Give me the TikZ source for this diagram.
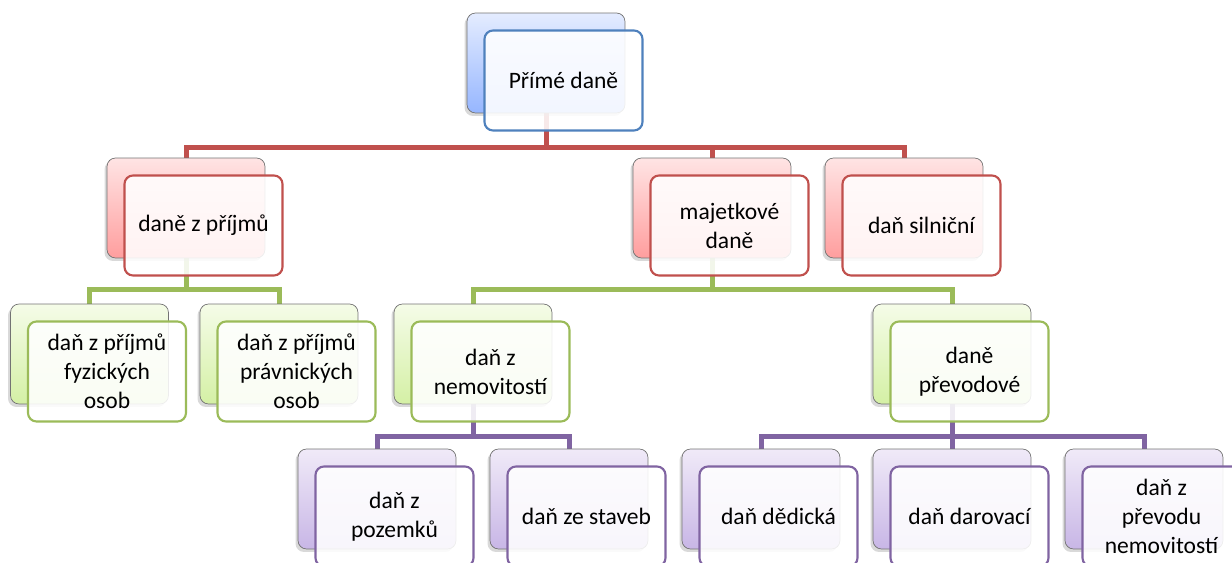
\documentclass[tikz,border=0pt]{standalone}
\usepackage{fontspec}
\setmainfont{Carlito}
\usetikzlibrary{backgrounds,shadows}

\definecolor{bluebd}{RGB}{79,129,189}
\definecolor{bluetop}{RGB}{228,236,255}
\definecolor{bluebot}{RGB}{150,182,255}
\definecolor{redbd}{RGB}{192,80,77}
\definecolor{redtop}{RGB}{255,228,228}
\definecolor{redbot}{RGB}{255,158,158}
\definecolor{greenbd}{RGB}{155,187,89}
\definecolor{greentop}{RGB}{245,252,232}
\definecolor{greenbot}{RGB}{212,240,165}
\definecolor{purplebd}{RGB}{128,100,162}
\definecolor{purpletop}{RGB}{240,234,248}
\definecolor{purplebot}{RGB}{200,182,230}

\begin{document}
\begin{tikzpicture}[x=0.02cm, y=-0.02cm,
    back/.style = {draw=gray!90!black, rounded corners=0.17cm, minimum width=3.16cm, minimum height=2cm,
      drop shadow={opacity=0.3, shadow xshift=-0.05cm, shadow yshift=-0.06cm}},
    front/.style = {draw, line width=1.2pt, fill=white, fill opacity=0.88, text opacity=1,
      rounded corners=0.17cm, minimum width=3.16cm, minimum height=2cm, align=center,
      font=\fontsize{13.4}{16.5}\selectfont, xshift=0.35cm, yshift=-0.35cm},
    blueback/.style = {back, top color=bluetop, bottom color=bluebot},
    redback/.style = {back, top color=redtop, bottom color=redbot},
    greenback/.style = {back, top color=greentop, bottom color=greenbot},
    purpleback/.style = {back, top color=purpletop, bottom color=purplebot},
    link/.style = {line width=0.1cm}]
  \useasboundingbox (0,0) rectangle (1232,563);

  % top
  \node[blueback] (b0) at (546,63) {};
  \node[front, draw=bluebd] (f0) at (b0) {Přímé daně};
  % second row
  \node[redback] (b1) at (186,208) {};
  \node[front, draw=redbd] (f1) at (b1) {daně z příjmů};
  \node[redback] (b2) at (712,208) {};
  \node[front, draw=redbd] (f2) at (b2) {majetkové\\daně};
  \node[redback] (b3) at (904,208) {};
  \node[front, draw=redbd] (f3) at (b3) {daň silniční};
  % third row
  \node[greenback] (b4) at (89.5,354) {};
  \node[front, draw=greenbd] (f4) at (b4) {daň z příjmů\\fyzických\\osob};
  \node[greenback] (b5) at (279,354) {};
  \node[front, draw=greenbd] (f5) at (b5) {daň z příjmů\\právnických\\osob};
  \node[greenback] (b6) at (473,354) {};
  \node[front, draw=greenbd] (f6) at (b6) {daň z\\nemovitostí};
  \node[greenback] (b7) at (952,354) {};
  \node[front, draw=greenbd] (f7) at (b7) {daně\\převodové};
  % fourth row
  \node[purpleback] (b8) at (377,499) {};
  \node[front, draw=purplebd] (f8) at (b8) {daň z\\pozemků};
  \node[purpleback] (b9) at (569,499) {};
  \node[front, draw=purplebd] (f9) at (b9) {daň ze staveb};
  \node[purpleback] (b10) at (761,499) {};
  \node[front, draw=purplebd] (f10) at (b10) {daň dědická};
  \node[purpleback] (b11) at (952,499) {};
  \node[front, draw=purplebd] (f11) at (b11) {daň darovací};
  \node[purpleback] (b12) at (1144,499) {};
  \node[front, draw=purplebd] (f12) at (b12) {daň z\\převodu\\nemovitostí};

  \coordinate (redbus) at (0,148);
  \coordinate (greenbus) at (0,290);
  \coordinate (purplebus) at (0,437);
  \begin{pgfonlayer}{background}
    \foreach \c in {b1,b2,b3}
      \draw[link, redbd] (b0.south) -- (b0 |- redbus) -| (\c.north);
    \foreach \c in {b4,b5}
      \draw[link, greenbd] (b1.south) -- (b1 |- greenbus) -| (\c.north);
    \foreach \c in {b6,b7}
      \draw[link, greenbd] (b2.south) -- (b2 |- greenbus) -| (\c.north);
    \foreach \c in {b8,b9}
      \draw[link, purplebd] (b6.south) -- (b6 |- purplebus) -| (\c.north);
    \foreach \c in {b10,b11,b12}
      \draw[link, purplebd] (b7.south) -- (b7 |- purplebus) -| (\c.north);
  \end{pgfonlayer}
\end{tikzpicture}
\end{document}
